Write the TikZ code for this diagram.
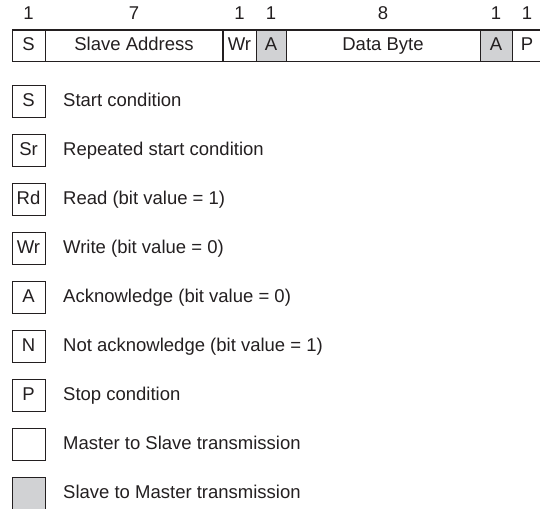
\documentclass[tikz,border=0pt]{standalone}
\usepackage{fontspec}
\setmainfont{Liberation Sans}
\usetikzlibrary{positioning}
\definecolor{slavegray}{HTML}{D1D2D4}
\definecolor{inkgray}{HTML}{231F20}

\begin{document}
\begin{tikzpicture}[x=1pt,y=-1pt,
  every node/.style={font=\fontsize{18.5pt}{22pt}\selectfont,text=inkgray},
  field/.style={draw=inkgray,line width=0.9pt,minimum height=31pt,inner sep=0,
                outer sep=0,text height=13.3pt,text depth=3pt},
  fromslave/.style={fill=slavegray},
  bits/.style={inner sep=0,above=10pt of #1},
  key/.style={draw=inkgray,line width=0.9pt,minimum width=33pt,minimum height=32pt,
              inner sep=0,outer sep=0,text height=13.3pt,text depth=3pt},
  keytext/.style={inner sep=0,text height=13.3pt,text depth=3pt},
]
  \useasboundingbox (0,0) rectangle (540,508);

  % write frame
  \node[field,minimum width=33pt,anchor=north west] (start) at (12,30) {S};
  \node[field,minimum width=178pt,right=0pt of start] (addr) {Slave Address};
  \node[field,minimum width=33pt,right=0pt of addr] (wr) {Wr};
  \node[field,fromslave,minimum width=30pt,right=0pt of wr] (ack1) {A};
  \node[field,minimum width=194pt,right=0pt of ack1] (data) {Data Byte};
  \node[field,fromslave,minimum width=32pt,right=0pt of data] (ack2) {A};
  \node[field,minimum width=30pt,right=0pt of ack2] (stop) {P};
  \draw[line width=1.8pt,inkgray] (start.north west) -- (stop.north east);
  \draw[line width=1.8pt,inkgray] (addr.north east) -- (addr.south east);

  % bit counts
  \foreach \f/\n in {start/1,addr/7,wr/1,ack1/1,data/8,ack2/1,stop/1}
    \node[bits=\f] (n-\f) {\n};

  % legend
  \foreach \sym/\txt/\shade [count=\i from 0] in {
      S/Start condition/white,
      Sr/Repeated start condition/white,
      Rd/Read (bit value = 1)/white,
      Wr/Write (bit value = 0)/white,
      A/Acknowledge (bit value = 0)/white,
      N/Not acknowledge (bit value = 1)/white,
      P/Stop condition/white,
      {}/Master to Slave transmission/white,
      {}/Slave to Master transmission/slavegray} {
    \node[key,fill=\shade] (key\i) at (28.5,{101+49.1*\i}) {\sym};
    \node[keytext,right=18pt of key\i] (txt\i) {\txt};
  }
\end{tikzpicture}
\end{document}
